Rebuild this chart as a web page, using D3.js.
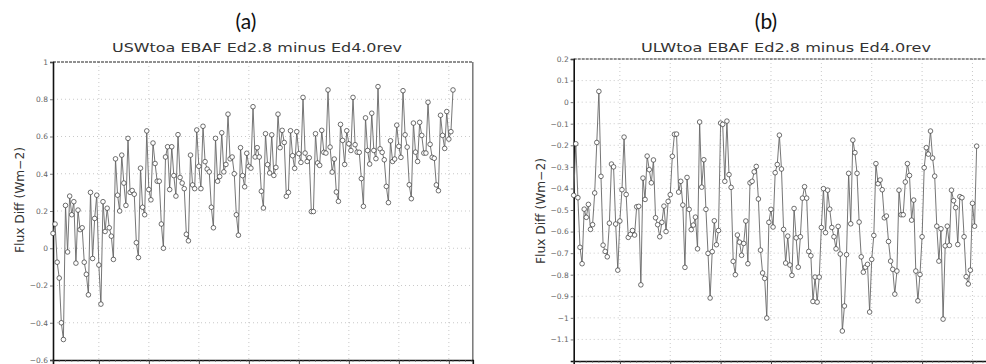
<!DOCTYPE html>
<html>
<head>
<meta charset="utf-8">
<script src="https://cdn.jsdelivr.net/npm/d3@7/dist/d3.min.js"></script>
<style>
  html, body { margin: 0; padding: 0; background: #fff; }
  svg { display: block; }
  .tick-label { font-family: "DejaVu Sans", sans-serif; font-size: 7.5px; fill: #666; }
  .title { font-family: "DejaVu Sans", sans-serif; font-size: 13px; fill: #333; }
  .panel-tag { font-family: Lato, "Open Sans", sans-serif; font-size: 21px; fill: #111; }
  .ylabel { font-family: "DejaVu Sans", sans-serif; font-size: 11.5px; fill: #333; }
</style>
</head>
<body>
<svg id="chart" width="986" height="364"></svg>
<script>
// monthly series, Mar 2000 .. Mar 2016 (193 months)
const startLabel = 'Mar 2000';

const uswDiff = [
  0.08, 0.13, -0.075, -0.16, -0.4, -0.49, 0.23, -0.02, 0.28, 0.18,
  0.25, -0.08, 0.205, 0.1, 0.11, -0.075, -0.14, -0.25, 0.3, -0.055,
  0.16, 0.285, -0.09, -0.3, 0.25, 0.09, 0.215, 0.11, 0.065, -0.06,
  0.48, 0.285, 0.2, 0.5, 0.35, 0.23, 0.59, 0.3, 0.31, 0.29,
  0.03, -0.05, 0.43, 0.22, 0.18, 0.63, 0.315, 0.26, 0.565, 0.455,
  0.36, 0.36, 0.13, 0.0, 0.49, 0.545, 0.315, 0.545, 0.39, 0.28,
  0.61, 0.38, 0.35, 0.32, 0.075, 0.04, 0.5, 0.34, 0.32, 0.635,
  0.44, 0.32, 0.655, 0.465, 0.425, 0.41, 0.22, 0.11, 0.59, 0.36,
  0.385, 0.62, 0.41, 0.45, 0.72,
  0.48, 0.49, 0.40, 0.18, 0.07, 0.54, 0.39, 0.33, 0.51, 0.44, 0.43,
  0.76,
  0.49, 0.54, 0.49, 0.306, 0.216, 0.615, 0.449, 0.404, 0.609, 0.391, 0.434,
  0.72,
  0.54, 0.633, 0.568, 0.279, 0.3, 0.631, 0.497, 0.429, 0.626, 0.508, 0.461,
  0.81,
  0.511, 0.466, 0.486, 0.197, 0.197, 0.615, 0.458, 0.445, 0.633, 0.515, 0.511,
  0.85,
  0.543, 0.409, 0.479, 0.302, 0.252, 0.665, 0.579, 0.45, 0.631, 0.561, 0.525,
  0.81,
  0.556, 0.516, 0.515, 0.374, 0.225, 0.7, 0.525, 0.452, 0.725, 0.525, 0.481,
  0.868,
  0.534, 0.515, 0.475, 0.332, 0.245, 0.577, 0.466, 0.479, 0.661, 0.547, 0.488,
  0.846,
  0.609, 0.543, 0.341, 0.266, 0.672, 0.516, 0.466, 0.676, 0.606, 0.511, 0.511,
  0.784,
  0.558, 0.488, 0.483, 0.34, 0.309, 0.714, 0.606, 0.536, 0.734, 0.586, 0.626,
  0.85
];

const ulwDiff = [
  -0.432, -0.193, -0.443, -0.673, -0.749, -0.496, -0.534, -0.474, -0.59, -0.568,
  -0.421, -0.187, 0.05, -0.344, -0.663, -0.692, -0.717, -0.561, -0.287, -0.3,
  -0.565, -0.779, -0.551, -0.406, -0.162, -0.428, -0.627, -0.613, -0.595, -0.616,
  -0.485, -0.483, -0.847, -0.352, -0.451, -0.25, -0.313, -0.374, -0.268, -0.536,
  -0.568, -0.624, -0.557, -0.482, -0.6, -0.46, -0.429, -0.251, -0.149, -0.148,
  -0.417, -0.367, -0.477, -0.766, -0.349, -0.497, -0.591, -0.57, -0.533, -0.68,
  -0.092, -0.394, -0.267, -0.497, -0.701, -0.908, -0.693, -0.55, -0.661, -0.595,
  -0.097, -0.103, -0.367, -0.088, -0.336, -0.395, -0.738, -0.8, -0.616, -0.649,
  -0.71,
  -0.655, -0.551, -0.749, -0.374, -0.367, -0.323, -0.298, -0.449, -0.686, -0.792,
  -0.817, -1.001, -0.557, -0.497, -0.579, -0.327, -0.289, -0.153, -0.31, -0.59,
  -0.746, -0.621, -0.755, -0.803, -0.493, -0.629, -0.765, -0.624, -0.445, -0.392,
  -0.445, -0.692, -0.712, -0.924, -0.811, -0.927, -0.811, -0.581, -0.401, -0.605,
  -0.408, -0.496, -0.581, -0.624, -0.68, -0.576, -0.704, -1.061, -0.945, -0.707,
  -0.33, -0.564, -0.176, -0.234, -0.33, -0.556, -0.717, -0.788, -0.765, -0.752,
  -0.973, -0.729, -0.618, -0.285, -0.378, -0.361, -0.406, -0.536, -0.528, -0.646,
  -0.737, -0.775, -0.89, -0.783, -0.408, -0.522, -0.522, -0.37, -0.285, -0.34,
  -0.547, -0.454, -0.783, -0.921, -0.799, -0.624, -0.304, -0.211, -0.241, -0.134,
  -0.259, -0.343, -0.575, -0.737, -0.587, -1.006, -0.666, -0.575, -0.664, -0.408,
  -0.457, -0.489, -0.66, -0.438, -0.443, -0.624, -0.809, -0.843, -0.779, -0.469,
  -0.575, -0.204
];

// January of even years, as month offsets from the start month
const xGridMonths = [22, 46, 70, 94, 118, 142, 166, 190];
const xEndMonth = 201.5;

const yTicksA = [-0.6, -0.4, -0.2, 0, 0.2, 0.4, 0.6, 0.8, 1];
const yTicksB = [-1.1, -1, -0.9, -0.8, -0.7, -0.6, -0.5, -0.4, -0.3, -0.2, -0.1, 0, 0.1, 0.2];

const panels = [
  {
    tag: '(a)', tagX: 246,
    title: 'USWtoa EBAF Ed2.8 minus Ed4.0rev', titleX: 257,
    values: uswDiff, yDomain: [-0.6, 1], yTicks: yTicksA,
    left: 53, right: 472.8, top: 62, bottom: 360,
    ylabelX: 20, ylabelY: 200
  },
  {
    tag: '(b)', tagX: 766,
    title: 'ULWtoa EBAF Ed2.8 minus Ed4.0rev', titleX: 786,
    values: ulwDiff, yDomain: [-1.2, 0.2], yTicks: yTicksB,
    left: 573.7, right: 996.6, top: 59, bottom: 361,
    ylabelX: 541, ylabelY: 211
  }
];

const svg = d3.select('#chart');

function fmt(v) {
  const s = d3.format('~g')(Math.round(v * 10) / 10);
  return s.replace('-', '\u2212');
}

function drawPanel(p) {
  const g = svg.append('g');

  const x = d3.scaleLinear().domain([0, xEndMonth]).range([p.left, p.right]);
  const y = d3.scaleLinear().domain(p.yDomain).range([p.bottom, p.top]);

  // dotted grid
  g.append('g').selectAll('line.hgrid')
    .data(p.yTicks.filter(t => t > p.yDomain[0] + 1e-9 && t < p.yDomain[1] - 1e-9))
    .enter().append('line')
    .attr('x1', p.left).attr('x2', p.right)
    .attr('y1', d => y(d)).attr('y2', d => y(d))
    .style('stroke', '#bbb').style('stroke-width', 0.8)
    .style('stroke-dasharray', '1,3');

  g.append('g').selectAll('line.vgrid')
    .data(xGridMonths)
    .enter().append('line')
    .attr('x1', d => x(d)).attr('x2', d => x(d))
    .attr('y1', p.top).attr('y2', p.bottom)
    .style('stroke', '#bbb').style('stroke-width', 0.8)
    .style('stroke-dasharray', '1,3');

  // frame: top dashed, right grey, left/bottom axes black
  g.append('line')
    .attr('x1', p.left).attr('x2', p.right).attr('y1', p.top).attr('y2', p.top)
    .style('stroke', '#222').style('stroke-width', 1.2).style('stroke-dasharray', '3,1');
  g.append('line')
    .attr('x1', p.right).attr('x2', p.right).attr('y1', p.top).attr('y2', p.bottom)
    .style('stroke', '#777').style('stroke-width', 1.5);

  // y axis
  const yAxis = d3.axisLeft(y).tickValues(p.yTicks).tickSize(3).tickPadding(2).tickFormat(fmt);
  const ya = g.append('g').attr('transform', `translate(${p.left},0)`).call(yAxis);
  ya.select('.domain').style('stroke', '#111').style('stroke-width', 1.6);
  ya.selectAll('.tick line').style('stroke', '#555').style('stroke-width', 0.8);
  ya.selectAll('.tick text').attr('class', 'tick-label').attr('fill', null);

  // x axis (labels fall below the picture)
  const xAxis = d3.axisBottom(x).tickValues(xGridMonths).tickSize(4).tickFormat('');
  const xa = g.append('g').attr('transform', `translate(0,${p.bottom})`).call(xAxis);
  xa.select('.domain').style('stroke', '#111').style('stroke-width', 1.6);
  xa.selectAll('.tick line').style('stroke', '#444');
  xa.append('g').selectAll('line')
    .data(d3.range(0, Math.floor(xEndMonth) + 1, 3))
    .enter().append('line')
    .attr('x1', d => x(d)).attr('x2', d => x(d))
    .attr('y1', 0).attr('y2', 2)
    .style('stroke', '#666').style('stroke-width', 0.6);

  // series
  const line = d3.line().x((d, i) => x(i)).y(d => y(d));
  g.append('path')
    .datum(p.values)
    .attr('d', line)
    .style('fill', 'none')
    .style('stroke', '#666')
    .style('stroke-width', 0.9);

  g.append('g').selectAll('circle')
    .data(p.values)
    .enter().append('circle')
    .attr('cx', (d, i) => x(i))
    .attr('cy', d => y(d))
    .attr('r', 2.3)
    .style('fill', '#fff')
    .style('stroke', '#333')
    .style('stroke-width', 0.7);

  // texts
  svg.append('text')
    .attr('class', 'panel-tag')
    .attr('x', p.tagX).attr('y', 29)
    .attr('text-anchor', 'middle')
    .text(p.tag);

  svg.append('text')
    .attr('class', 'title')
    .attr('x', p.titleX).attr('y', 52)
    .attr('text-anchor', 'middle')
    .attr('textLength', 290)
    .attr('lengthAdjust', 'spacingAndGlyphs')
    .text(p.title);

  svg.append('text')
    .attr('class', 'ylabel')
    .attr('transform', `translate(${p.ylabelX + 4},${p.ylabelY}) rotate(-90)`)
    .attr('text-anchor', 'middle')
    .attr('textLength', 106)
    .attr('lengthAdjust', 'spacingAndGlyphs')
    .text('Flux Diff (Wm\u22122)');
}

panels.forEach(drawPanel);
</script>
</body>
</html>
